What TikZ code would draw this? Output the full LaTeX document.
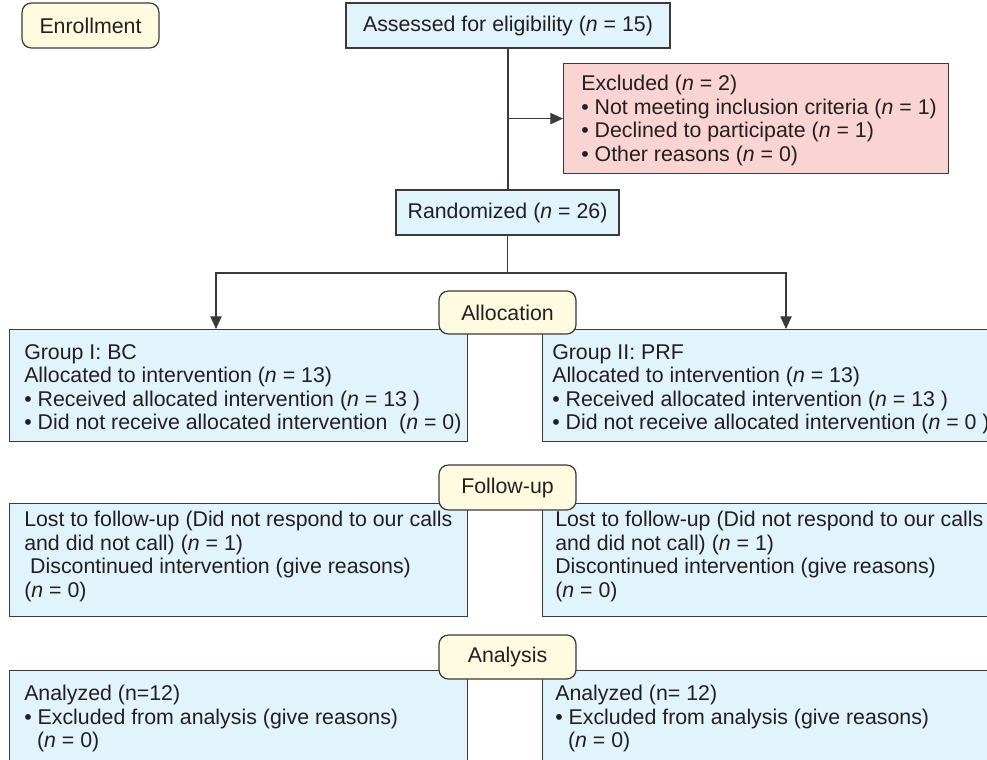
\documentclass[tikz,border=0pt]{standalone}
\usepackage{fontspec}
\setmainfont{Liberation Sans}
\usetikzlibrary{arrows.meta}
\definecolor{boxblue}{HTML}{E1F3FB}
\definecolor{boxpink}{HTML}{FAD4D4}
\definecolor{boxyellow}{HTML}{FFFBE0}
\definecolor{edge}{HTML}{3A3A3A}
\definecolor{ink}{HTML}{231F20}
\begin{document}
\begin{tikzpicture}[x=0.75pt,y=-0.75pt,
  font=\fontsize{16}{17.6}\selectfont,
  every node/.style={text=ink},
  boxbase/.style={draw=edge, line width=0.9pt, inner sep=0pt},
  bluebox/.style={boxbase, fill=boxblue},
  pinkbox/.style={boxbase, fill=boxpink},
  stagebox/.style={boxbase, fill=boxyellow, rounded corners=7pt, minimum width=102.75pt},
  txt/.style={anchor=north west, inner sep=0pt, align=left},
  link/.style={draw=edge, line width=0.9pt},
  arr/.style={link, -{Triangle[length=9.5pt,width=8.5pt]}}]
\useasboundingbox (0,0) rectangle (987,759);
\clip (0,0) rectangle (987,759);

% top part
\node[stagebox, minimum height=33.75pt] (enroll) at (90.5,25.5) {Enrollment};
\node[bluebox, minimum width=243pt, minimum height=33.75pt] (assess) at (508,25.5) {Assessed for eligibility (\textit{n} = 15)};
\node[pinkbox, anchor=north west, minimum width=288.75pt, minimum height=82.5pt] (excl) at (563,63) {};
\node[txt] (exclt) at (581,75) {Excluded (\textit{n} = 2)\\• Not meeting inclusion criteria (\textit{n} = 1)\\• Declined to participate (\textit{n} = 1)\\• Other reasons (\textit{n} = 0)};
\node[bluebox, minimum width=167.25pt, minimum height=33.75pt] (rand) at (507.5,212.5) {Randomized (\textit{n} = 26)};

% allocation boxes
\node[bluebox, anchor=north west, minimum width=343.5pt, minimum height=84pt] (grp1) at (9,329) {};
\node[bluebox, anchor=north west, minimum width=343.5pt, minimum height=84pt] (grp2) at (542,329) {};
\node[txt] (grp1t) at (24,344) {Group I: BC\\Allocated to intervention (\textit{n} = 13)\\• Received allocated intervention (\textit{n} = 13 )\\• Did not receive allocated intervention\hspace*{0.55em}(\textit{n} = 0)};
\node[txt] (grp2t) at (552,344) {Group II: PRF\\Allocated to intervention (\textit{n} = 13)\\• Received allocated intervention (\textit{n} = 13 )\\• Did not receive allocated intervention (\textit{n} = 0 )};
\node[stagebox, minimum height=32.25pt] (alloc) at (507.5,312.5) {Allocation};

% follow-up boxes
\node[bluebox, anchor=north west, minimum width=343.5pt, minimum height=84.75pt] (fu1) at (9,503) {};
\node[bluebox, anchor=north west, minimum width=343.5pt, minimum height=84.75pt] (fu2) at (542,503) {};
\node[txt] (fu1t) at (24,511) {Lost to follow-up (Did not respond to our calls\\and did not call) (\textit{n} = 1)\\\hspace*{0.28em}Discontinued intervention (give reasons)\\(\textit{n} = 0)};
\node[txt] (fu2t) at (555,511) {Lost to follow-up (Did not respond to our calls\\and did not call) (\textit{n} = 1)\\Discontinued intervention (give reasons)\\(\textit{n} = 0)};
\node[stagebox, minimum height=33.75pt] (follow) at (507.5,487.5) {Follow-up};

% analysis boxes
\node[bluebox, anchor=north west, minimum width=343.5pt, minimum height=90pt] (an1) at (9,670) {};
\node[bluebox, anchor=north west, minimum width=343.5pt, minimum height=90pt] (an2) at (542,670) {};
\node[txt] (an1t) at (24,685) {Analyzed (n=12)\\• Excluded from analysis (give reasons)\\\hspace*{0.6em}(\textit{n} = 0)};
\node[txt] (an2t) at (555,685) {Analyzed (n= 12)\\• Excluded from analysis (give reasons)\\\hspace*{0.6em}(\textit{n} = 0)};
\node[stagebox, minimum height=33pt] (analysis) at (507.5,657) {Analysis};

% connectors
\coordinate (split) at (507.5,273);
\coordinate (splitL) at (216,273);
\coordinate (splitR) at (786,273);
\draw[link] (assess.south) -- (assess.south |- rand.north);
\draw[arr] (assess.south |- excl.west) -- (excl.west);
\draw[link] (rand.south) -- (split);
\draw[arr] (split) -- (splitL) -- (splitL |- grp1.north);
\draw[arr] (split) -- (splitR) -- (splitR |- grp2.north);
\end{tikzpicture}
\end{document}
